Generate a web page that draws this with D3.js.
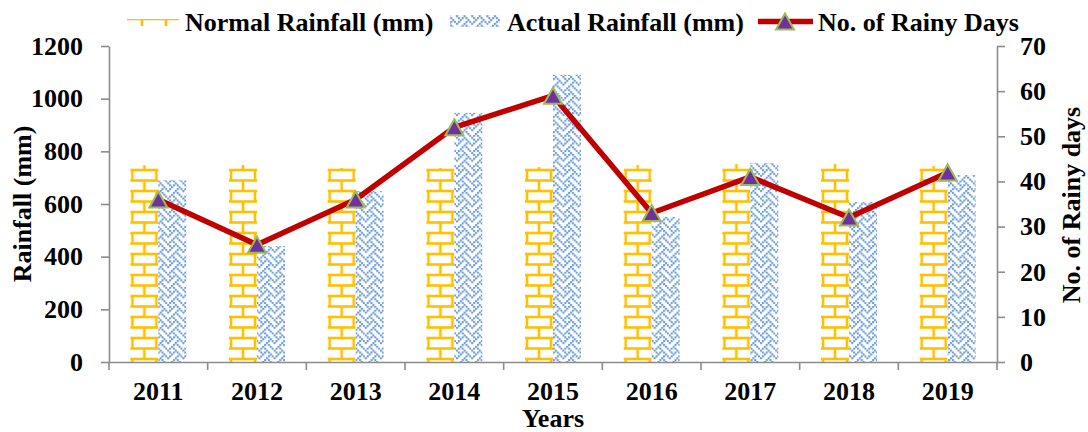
<!DOCTYPE html>
<html><head><meta charset="utf-8">
<script src="https://cdn.jsdelivr.net/npm/d3@7"></script>
<style>
html,body{margin:0;padding:0;background:#fff;}
text{font-family:"Liberation Serif","Times New Roman",serif;font-weight:bold;fill:#000;}
</style></head>
<body>
<svg id="chart" width="1088" height="432"></svg>
<script>
const years = ["2011","2012","2013","2014","2015","2016","2017","2018","2019"];
const normalRainfall = [748, 748, 737, 737, 740, 748, 752, 752, 744];
const actualRainfall = [691, 440, 649, 946, 1090, 551, 756, 608, 710];
const rainyDays = [36, 26, 36, 52, 59, 33, 41, 32, 42];
const leftTicks = [0, 200, 400, 600, 800, 1000, 1200];
const rightTicks = [0, 10, 20, 30, 40, 50, 60, 70];
const seriesNames = ["Normal Rainfall (mm)", "Actual Rainfall (mm)", "No. of Rainy Days"];

const W = 1088, H = 432;
const L = 109, R = 997, T = 46, B = 362;
const FS = 26;
const yellow = "#FFC000", blue = "#709FDB", red = "#C00000", purple = "#7030A0", green = "#9BBB59", axisCol = "#8C8C8C";

const svg = d3.select("#chart");
const defs = svg.append("defs");

const x0 = d3.scaleBand().domain(years).range([L, R]).paddingInner(0.433).paddingOuter(0.2165);
const x1 = d3.scaleBand().domain(["normal","actual"]).range([0, x0.bandwidth()]);
const yL = d3.scaleLinear().domain([0, 1200]).range([B, T]);
const yR = d3.scaleLinear().domain([0, 70]).range([B, T]);

// brick pattern factory
const brickW = 24, brickH = 10.5;
function brickPattern(id, px, py) {
  const p = defs.append("pattern").attr("id", id).attr("patternUnits", "userSpaceOnUse")
    .attr("x", px).attr("y", py).attr("width", brickW).attr("height", brickH * 2);
  const g = p.append("g").attr("stroke", yellow).attr("stroke-width", 2.6).attr("fill", "none");
  g.append("line").attr("x1", 0).attr("x2", brickW).attr("y1", 0).attr("y2", 0);
  g.append("line").attr("x1", 0).attr("x2", brickW).attr("y1", brickH*2).attr("y2", brickH*2);
  g.append("line").attr("x1", 0).attr("x2", brickW).attr("y1", brickH).attr("y2", brickH);
  g.append("line").attr("x1", 0).attr("x2", 0).attr("y1", 0).attr("y2", brickH);
  g.append("line").attr("x1", brickW).attr("x2", brickW).attr("y1", 0).attr("y2", brickH);
  g.append("line").attr("x1", brickW/2).attr("x2", brickW/2).attr("y1", brickH).attr("y2", brickH*2);
}
// weave pattern (8x8 bitmap scaled)
const weaveBits = [0x88, 0x54, 0x22, 0x45, 0x88, 0x14, 0x22, 0x51];
const ws = 1.9;
const wp = defs.append("pattern").attr("id", "weave").attr("patternUnits", "userSpaceOnUse")
  .attr("width", 8*ws).attr("height", 8*ws);
wp.append("rect").attr("width", 8*ws).attr("height", 8*ws).attr("fill", "#fff");
weaveBits.forEach((b, r) => {
  for (let c = 0; c < 8; c++) {
    if (b & (0x80 >> c)) {
      wp.append("rect").attr("x", c*ws).attr("y", r*ws).attr("width", ws+0.2).attr("height", ws+0.2)
        .attr("fill", blue);
    }
  }
});

years.forEach((y, i) => brickPattern("brick" + i, x0(y) + x1("normal") + 2, 170));
brickPattern("brickLegend", 142, 19);

// bars
const bars = svg.append("g");
bars.selectAll("rect.normal").data(years).join("rect").attr("class", "normal")
  .attr("x", d => x0(d) + x1("normal")).attr("width", x1.bandwidth())
  .attr("y", (d, i) => yL(normalRainfall[i])).attr("height", (d, i) => B - yL(normalRainfall[i]))
  .attr("fill", (d, i) => "url(#brick" + i + ")");
bars.selectAll("rect.actual").data(years).join("rect").attr("class", "actual")
  .attr("x", d => x0(d) + x1("actual")).attr("width", x1.bandwidth())
  .attr("y", (d, i) => yL(actualRainfall[i])).attr("height", (d, i) => B - yL(actualRainfall[i]))
  .attr("fill", "url(#weave)");

// axes
function styleAxis(g) {
  g.attr("font-family", null).attr("font-size", null);
  g.selectAll("path.domain").attr("stroke", axisCol).attr("stroke-width", 1.6);
  g.selectAll(".tick line").attr("stroke", axisCol).attr("stroke-width", 1.6);
  g.selectAll(".tick text").style("font-family", '"Liberation Serif", "Times New Roman", serif').style("font-weight", "bold")
    .style("font-size", FS + "px").attr("fill", "#000");
}
const gL = svg.append("g").attr("transform", `translate(${L},0)`)
  .call(d3.axisLeft(yL).tickValues(leftTicks).tickSize(8).tickSizeOuter(0).tickPadding(18).tickFormat(d3.format("d")));
styleAxis(gL);
const gR = svg.append("g").attr("transform", `translate(${R},0)`)
  .call(d3.axisRight(yR).tickValues(rightTicks).tickSize(8).tickSizeOuter(0).tickPadding(15).tickFormat(d3.format("d")));
styleAxis(gR);
const gB = svg.append("g").attr("transform", `translate(0,${B})`)
  .call(d3.axisBottom(x0).tickSize(0).tickSizeOuter(0).tickPadding(20));
styleAxis(gB);
// category boundary ticks
const step = x0.step();
const bounds = d3.range(years.length + 1).map(k => L + k * step);
gB.selectAll("line.bnd").data(bounds).join("line").attr("class", "bnd")
  .attr("x1", d => d).attr("x2", d => d).attr("y1", 0).attr("y2", 8)
  .attr("stroke", axisCol).attr("stroke-width", 1.6);

// line
const lineGen = d3.line().x((d, i) => x0(years[i]) + x0.bandwidth() / 2).y(d => yR(d));
svg.append("path").datum(rainyDays).attr("d", lineGen).attr("fill", "none")
  .attr("stroke", red).attr("stroke-width", 5.5).attr("stroke-linejoin", "round");
const tri = "M0,-8 L9,8 L-9,8 Z";
svg.selectAll("path.mk").data(rainyDays).join("path").attr("class", "mk")
  .attr("d", tri).attr("transform", (d, i) => `translate(${x0(years[i]) + x0.bandwidth()/2},${yR(d)})`)
  .attr("fill", purple).attr("stroke", green).attr("stroke-width", 2).attr("stroke-linejoin", "miter");

// axis titles
svg.append("text").attr("transform", `translate(31,${(T+B)/2}) rotate(-90)`).attr("text-anchor", "middle")
  .style("font-size", FS + "px").text("Rainfall (mm)");
svg.append("text").attr("transform", `translate(1080,${(T+B)/2 + 1}) rotate(-90)`).attr("text-anchor", "middle")
  .style("font-size", FS + "px").text("No. of Rainy days");
svg.append("text").attr("x", (L+R)/2).attr("y", 427).attr("text-anchor", "middle")
  .style("font-size", FS + "px").text("Years");

// legend
const lg = svg.append("g");
lg.append("rect").attr("x", 127).attr("y", 19).attr("width", 52).attr("height", 7).attr("fill", "url(#brickLegend)");
lg.append("text").attr("x", 185).attr("y", 31).style("font-size", FS + "px").text(seriesNames[0]);
lg.append("rect").attr("x", 450).attr("y", 15).attr("width", 50).attr("height", 12).attr("fill", "url(#weave)");
lg.append("text").attr("x", 507).attr("y", 31).style("font-size", FS + "px").text(seriesNames[1]);
lg.append("line").attr("x1", 758).attr("x2", 813).attr("y1", 21.5).attr("y2", 21.5)
  .attr("stroke", red).attr("stroke-width", 5.5);
lg.append("path").attr("d", tri).attr("transform", "translate(785,21.5)")
  .attr("fill", purple).attr("stroke", green).attr("stroke-width", 2);
lg.append("text").attr("x", 818).attr("y", 31).style("font-size", FS + "px").text(seriesNames[2]);
</script>
</body></html>
